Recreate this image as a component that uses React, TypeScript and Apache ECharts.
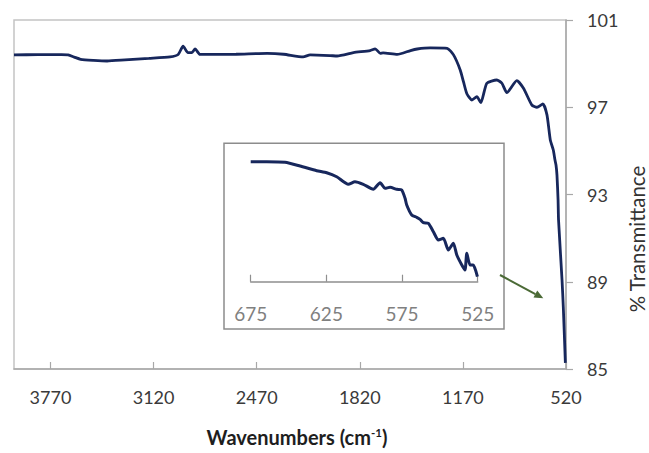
import React, { useEffect, useRef } from "react";
import * as echarts from "echarts";

// Main FT-IR spectrum: [wavenumber cm-1, % transmittance]
const mainSpectrum: [number, number][] = [
  [4000, 99.4], [3850, 99.41], [3700, 99.41], [3659, 99.4], [3620, 99.3], [3580, 99.2],
  [3500, 99.15], [3413, 99.12], [3300, 99.17], [3150, 99.24], [3016, 99.31], [2965, 99.42],
  [2934, 99.8], [2903, 99.5], [2880, 99.5], [2858, 99.67], [2827, 99.42], [2600, 99.43],
  [2404, 99.47], [2300, 99.43], [2177, 99.31], [2133, 99.4], [2007, 99.37], [1963, 99.35],
  [1860, 99.5], [1755, 99.6], [1723, 99.68], [1690, 99.47], [1673, 99.49], [1584, 99.42],
  [1500, 99.6], [1458, 99.67], [1376, 99.72], [1269, 99.7], [1229, 99.4], [1187, 98.71],
  [1166, 98.16], [1145, 97.62], [1113, 97.33], [1082, 97.49], [1057, 97.21], [1019, 98.1],
  [956, 98.25], [924, 98.1], [893, 97.67], [830, 98.22], [788, 97.87], [735, 97.1],
  [703, 97.0], [666, 97.15], [640, 96.65], [619, 95.5], [600, 95.04], [590, 94.6],
  [583, 94.35], [577, 93.9], [570, 92.75], [567, 91.83], [545, 89.08], [537, 87.84],
  [524, 85.28],
];

// Inset: magnified 675-525 cm-1 region
const insetSpectrum: [number, number][] = [
  [675, 97.0], [664.4, 97.0], [652.3, 96.94], [642.4, 96.57], [631.4, 96.1], [624.8, 95.9],
  [618.2, 95.5], [610.5, 94.74], [606.1, 95.0], [600.6, 94.74], [594.0, 94.24], [589.5, 94.9],
  [586.2, 94.34], [582.9, 94.44], [578.5, 94.24], [575.2, 94.17], [573.0, 93.34], [571.9, 92.67],
  [568.6, 91.67], [565.3, 91.44], [563.1, 91.24], [560.9, 90.9], [557.6, 90.84], [554.3, 90.0],
  [551.0, 89.17], [547.7, 89.34], [544.4, 88.17], [541.1, 88.84], [538.8, 87.67], [535.5, 86.67],
  [533.4, 86.17], [532.2, 87.84], [530.1, 86.67], [527.9, 86.67], [525.2, 85.5],
];

const mainXTicks = [3770, 3120, 2470, 1820, 1170, 520];
const mainYTicks = [85, 89, 93, 97, 101];
const insetXTicks = [675, 625, 575, 525];

const FONT = "Lato, 'Open Sans', sans-serif";
const LINE_COLOR = "#17275c";
const plain = (v: number) => String(v);

export default function App() {
  const ref = useRef<HTMLDivElement>(null);
  useEffect(() => {
    if (!ref.current) return;
    const chart = echarts.init(ref.current, null, { renderer: "svg" });
    const tip = [543.3, 298.3];
    const dir = [0.881, 0.471];
    const base = [tip[0] - 9 * dir[0], tip[1] - 9 * dir[1]];
    const perp = [-dir[1], dir[0]];
    chart.setOption({
      animation: false,
      backgroundColor: "#ffffff",
      grid: [
        { left: 14, right: 83, top: 20, bottom: 84, show: true, borderColor: "#c4c4c4", borderWidth: 1.5 },
        { left: 250.7, width: 227, top: 151.7, height: 130 },
      ],
      xAxis: [
        {
          type: "value", gridIndex: 0, inverse: true, min: 520, max: 4000,
          axisLine: { lineStyle: { color: "#a8a8a8", width: 1.5 } },
          axisTick: { show: true, inside: true, length: 7, customValues: mainXTicks, lineStyle: { color: "#a8a8a8", width: 1.2 } },
          axisLabel: { customValues: mainXTicks, formatter: plain, color: "#3a3a3a", fontSize: 18, fontFamily: FONT, margin: 19 },
          splitLine: { show: false },
        },
        {
          type: "value", gridIndex: 1, inverse: true, min: 525, max: 675,
          axisLine: { lineStyle: { color: "#8f8f8f", width: 1.5 } },
          axisTick: { show: true, inside: true, length: 7, customValues: insetXTicks, lineStyle: { color: "#8f8f8f", width: 1.2 } },
          axisLabel: { customValues: insetXTicks, formatter: plain, color: "#808080", fontSize: 19, fontFamily: FONT, margin: 22 },
          splitLine: { show: false },
        },
      ],
      yAxis: [
        {
          type: "value", gridIndex: 0, position: "right", min: 85, max: 101,
          axisLine: { show: true, lineStyle: { color: "#a8a8a8", width: 1.5 } },
          axisTick: { show: true, inside: false, length: 7, customValues: mainYTicks, lineStyle: { color: "#a8a8a8", width: 1.2 } },
          axisLabel: { customValues: mainYTicks, formatter: plain, color: "#3a3a3a", fontSize: 18, fontFamily: FONT, margin: 21 },
          splitLine: { show: false },
        },
        { type: "value", gridIndex: 1, min: 85, max: 98, show: false },
      ],
      series: [
        {
          type: "line", xAxisIndex: 0, yAxisIndex: 0, data: mainSpectrum, showSymbol: false,
          smooth: 0.2, lineStyle: { color: LINE_COLOR, width: 2.8 }, z: 3,
        },
        {
          type: "line", xAxisIndex: 1, yAxisIndex: 1, data: insetSpectrum, showSymbol: false,
          smooth: 0.2, lineStyle: { color: LINE_COLOR, width: 3 }, z: 3,
        },
      ],
      graphic: [
        {
          type: "rect", z: 1, shape: { x: 224, y: 143.3, width: 280, height: 185.7 },
          style: { fill: "none", stroke: "#8c8c8c", lineWidth: 1.5 },
        },
        {
          type: "line", z: 4, shape: { x1: 500, y1: 275, x2: base[0], y2: base[1] },
          style: { stroke: "#4b6a36", lineWidth: 2 },
        },
        {
          type: "polygon", z: 4,
          shape: {
            points: [
              tip,
              [base[0] + 4 * perp[0], base[1] + 4 * perp[1]],
              [base[0] - 4 * perp[0], base[1] - 4 * perp[1]],
            ],
          },
          style: { fill: "#4b6a36" },
        },
        {
          type: "text", x: 637, y: 239, rotation: Math.PI / 2,
          style: {
            text: "% Transmittance", fill: "#333333", fontSize: 20.5, fontFamily: FONT,
            align: "center", verticalAlign: "middle",
          },
        },
        {
          type: "text", x: 297, y: 437,
          style: {
            text: "Wavenumbers (cm{sup|-1})", fill: "#1e1e1e", fontSize: 20, fontWeight: "bold",
            fontFamily: FONT, align: "center", verticalAlign: "middle",
            rich: {
              sup: { fontSize: 11.5, fontWeight: "bold", fontFamily: FONT, fill: "#1e1e1e", padding: [0, 0, 9, 0] },
            },
          },
        },
      ],
    });
    return () => chart.dispose();
  }, []);
  return <div ref={ref} style={{ position: "fixed", left: 0, top: 0, width: 649, height: 453 }} />;
}
